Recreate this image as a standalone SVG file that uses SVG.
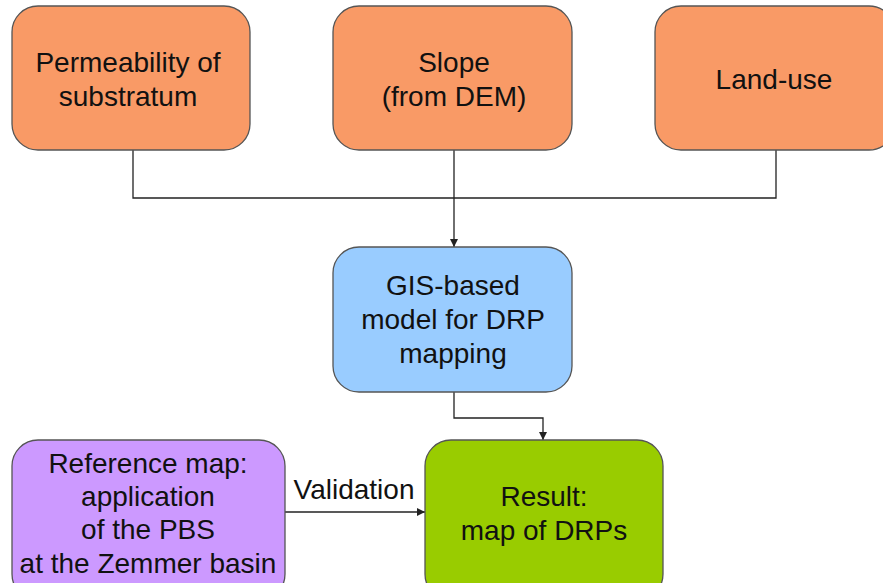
<svg xmlns="http://www.w3.org/2000/svg" width="883" height="583" viewBox="0 0 883 583">
  <style>
    .box { stroke: #555; stroke-width: 1.3; }
    .in { fill: #F99A66; }
    .model { fill: #99CCFF; }
    .ref { fill: #CC99FF; }
    .res { fill: #99CC00; }
    text { font-family: "Liberation Sans", Arial, sans-serif; font-size: 28px; fill: #111; text-anchor: middle; }
    .wire { fill: none; stroke: #222; stroke-width: 1.3; }
  </style>
  <defs>
    <marker id="arrow" viewBox="0 0 10 10" refX="10" refY="5" markerWidth="8" markerHeight="8" markerUnits="userSpaceOnUse" orient="auto">
      <path d="M0,0 L10,5 L0,10 z" fill="#222"/>
    </marker>
  </defs>
  <rect width="883" height="583" fill="#fff"/>

  <g id="connectors">
    <polyline class="wire" points="133,150 133,198 776,198 776,150"/>
    <line class="wire" x1="454" y1="150" x2="454" y2="247" marker-end="url(#arrow)"/>
    <polyline class="wire" points="454,392 454,418 543,418 543,440" marker-end="url(#arrow)"/>
    <line class="wire" x1="285" y1="512" x2="425" y2="512" marker-end="url(#arrow)"/>
    <text x="354" y="499">Validation</text>
  </g>

  <g id="permeability">
    <rect class="box in" x="12" y="6" width="238" height="144" rx="26"/>
    <text x="128" y="72">Permeability of</text>
    <text x="128" y="106">substratum</text>
  </g>

  <g id="slope">
    <rect class="box in" x="333" y="6" width="239" height="144" rx="26"/>
    <text x="454" y="72">Slope</text>
    <text x="454" y="106">(from DEM)</text>
  </g>

  <g id="landuse">
    <rect class="box in" x="655" y="6" width="240" height="144" rx="26"/>
    <text x="774" y="89">Land-use</text>
  </g>

  <g id="gis-model">
    <rect class="box model" x="333" y="247" width="239" height="145" rx="26"/>
    <text x="453" y="295">GIS-based</text>
    <text x="453" y="329">model for DRP</text>
    <text x="453" y="363">mapping</text>
  </g>

  <g id="reference-map">
    <rect class="box ref" x="12" y="440" width="273" height="160" rx="26"/>
    <text x="148" y="473">Reference map:</text>
    <text x="148" y="506">application</text>
    <text x="148" y="539">of the PBS</text>
    <text x="148" y="573">at the Zemmer basin</text>
  </g>

  <g id="result">
    <rect class="box res" x="425" y="440" width="238" height="160" rx="26"/>
    <text x="544" y="506">Result:</text>
    <text x="544" y="540">map of DRPs</text>
  </g>
</svg>
